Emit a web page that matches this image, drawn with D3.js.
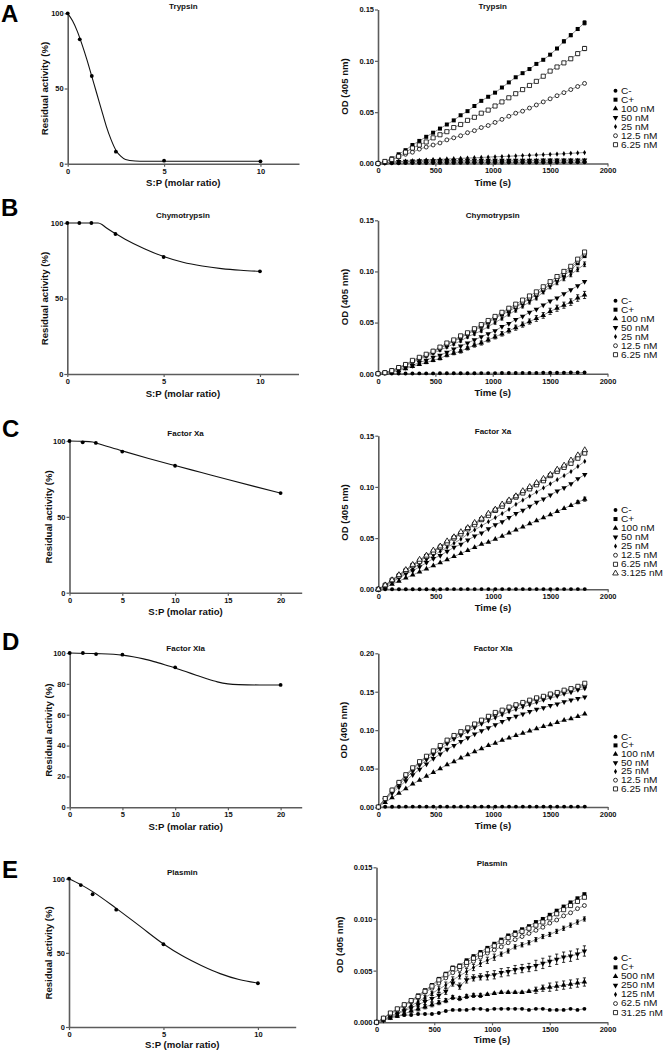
<!DOCTYPE html>
<html><head><meta charset="utf-8">
<script src="https://cdn.jsdelivr.net/npm/d3@7"></script>
<style>body{margin:0;background:#fff}svg{display:block}text{font-family:"Liberation Sans",Arial,Helvetica,sans-serif}</style>
</head><body><svg id="c" width="665" height="1050"></svg>
<script>
// ---------- time axis (s) ----------
const time = [0,60,120,180,240,300,360,420,480,540,600,660,720,780,840,900,960,1020,1080,1140,1200,1260,1320,1380,1440,1500,1560,1620,1680,1740,1800];

// ---------- left panels: residual activity ----------
const tryRatio = [0,0.625,1.25,2.5,5,10];
const tryAct   = [100,82.7,58.3,8,2,1.6];
const tryFitX  = [0,0.25,0.5,0.75,1,1.25,1.5,1.75,2,2.25,2.5,2.75,3,3.5,4,5,6,8,10];
const tryFitY  = [100,95,88,79,69,58,47,36,25,16,9,5,2.8,1.8,1.6,1.6,1.6,1.6,1.6];

const chyRatio = [0,0.625,1.25,2.5,5,10];
const chyAct   = [100,100,100,92.7,77.5,68];
const chyFitX  = [0,0.625,1.25,1.6,1.8,2,2.5,3,4,5,6,7,8,9,10];
const chyFitY  = [100,100,100,100,99,97,93,89.3,83,77.8,74,71.5,69.8,68.7,68];

const fxaRatio = [0,1.25,2.5,5,10,20];
const fxaAct   = [100,99.1,98.7,93,83.7,65.7];
const fxaFitX  = [0,1.25,2.2,2.5,5,7.5,10,12.5,15,17.5,20];
const fxaFitY  = [100,99.8,99.3,98.7,93.5,88.5,83.8,79.2,74.6,70.1,65.7];

const fxiRatio = [0,1.25,2.5,5,10,20];
const fxiAct   = [100,100,99.3,98.9,90.7,79.3];
const fxiFitX  = [0,2.5,5,6,7,8,9,10,11,12,13,14,15,16,18,20];
const fxiFitY  = [100,99.6,98.6,97.6,96.2,94.4,92.4,90.3,88,85.6,83.3,81.3,80,79.5,79.3,79.3];

const plaRatio = [0,0.625,1.25,2.5,5,10];
const plaAct   = [100,95.7,89.5,79.1,55.8,29.5];
const plaFitX  = [0,0.625,1.25,2.5,3.75,5,6,7,8,9,10];
const plaFitY  = [100,96,91.3,80,68,56,48,41.5,36,32,29.6];

// ---------- right panels: OD(405 nm) kinetics ----------
const tryLegend = ["C-","C+","100 nM","50 nM","25 nM","12.5 nM","6.25 nM"];
const tryCneg = [0,0.0002,0.0003,0.0003,0.0004,0.0004,0.0005,0.0005,0.0005,0.0006,0.0006,0.0006,0.0007,0.0007,0.0007,0.0008,0.0008,0.0008,0.0008,0.0009,0.0009,0.0009,0.0009,0.0010,0.0010,0.0010,0.0010,0.0011,0.0011,0.0011,0.0011];
const tryCpos = [0,0.002,0.005,0.009,0.013,0.018,0.022,0.026,0.030,0.034,0.038,0.042,0.047,0.051,0.056,0.061,0.065,0.069,0.074,0.079,0.084,0.088,0.092,0.097,0.101,0.106,0.112,0.119,0.125,0.131,0.137];
const tryCposErr = [0,0,0,0,0,0,0,0,0,0,0,0,0,0,0,0,0,0,0,0,0,0,0,0,0,0,0.001,0.0015,0.0015,0.0015,0.002];
const try100 = [0,0.0006,0.0011,0.0014,0.0016,0.0018,0.0019,0.0020,0.0021,0.0021,0.0022,0.0022,0.0022,0.0023,0.0023,0.0023,0.0023,0.0024,0.0024,0.0024,0.0024,0.0024,0.0025,0.0025,0.0025,0.0025,0.0025,0.0025,0.0026,0.0026,0.0026];
const try50 = [0,0.0008,0.0014,0.0018,0.0021,0.0023,0.0025,0.0026,0.0027,0.0028,0.0029,0.0029,0.0030,0.0030,0.0030,0.0031,0.0031,0.0031,0.0031,0.0032,0.0032,0.0032,0.0032,0.0032,0.0033,0.0033,0.0033,0.0033,0.0033,0.0033,0.0034];
const try25 = [0,0.0006,0.0012,0.0017,0.0022,0.0026,0.0030,0.0034,0.0038,0.0041,0.0044,0.0047,0.0050,0.0053,0.0056,0.0059,0.0062,0.0065,0.0068,0.0071,0.0074,0.0077,0.0080,0.0083,0.0086,0.0089,0.0092,0.0095,0.0099,0.0103,0.0107];
const try12 = [0,0.0015,0.004,0.006,0.009,0.011,0.014,0.016,0.018,0.020,0.023,0.025,0.027,0.030,0.032,0.035,0.037,0.040,0.043,0.046,0.049,0.051,0.054,0.057,0.060,0.063,0.066,0.069,0.072,0.075,0.078];
const try6 = [0,0.002,0.004,0.007,0.011,0.015,0.018,0.021,0.025,0.028,0.031,0.035,0.038,0.042,0.045,0.049,0.052,0.056,0.060,0.064,0.068,0.072,0.076,0.080,0.085,0.090,0.094,0.098,0.102,0.107,0.112];
const try6Err = [0,0,0,0,0,0,0,0,0,0,0,0,0,0,0,0,0,0,0,0,0,0,0,0,0,0,0.001,0.001,0.0015,0.0015,0.002];

const chyLegend = ["C-","C+","100 nM","50 nM","25 nM","12.5 nM","6.25 nM"];
const chyCneg = [0,0.0001,0.0001,0.0002,0.0002,0.0002,0.0003,0.0003,0.0003,0.0004,0.0004,0.0004,0.0005,0.0005,0.0005,0.0006,0.0006,0.0006,0.0007,0.0007,0.0007,0.0008,0.0008,0.0008,0.0009,0.0009,0.0010,0.0010,0.0011,0.0011,0.0012];
const chyCpos = [0,0.001,0.003,0.006,0.008,0.012,0.015,0.018,0.021,0.025,0.028,0.032,0.035,0.039,0.042,0.046,0.050,0.054,0.058,0.061,0.065,0.069,0.073,0.077,0.082,0.087,0.092,0.096,0.101,0.108,0.115];
const chy100 = [0,0.0005,0.0015,0.003,0.005,0.007,0.009,0.011,0.013,0.015,0.018,0.020,0.022,0.025,0.028,0.030,0.033,0.036,0.039,0.042,0.045,0.048,0.051,0.054,0.057,0.061,0.064,0.067,0.070,0.074,0.077];
const chy100Err = [0,0,0,0.0005,0.0008,0.001,0.001,0.0012,0.0012,0.0015,0.0015,0.0015,0.0018,0.0018,0.002,0.002,0.002,0.002,0.0022,0.0022,0.0025,0.0025,0.0025,0.0028,0.0028,0.003,0.003,0.003,0.0032,0.0032,0.0035];
const chy50 = [0,0.001,0.002,0.004,0.006,0.008,0.011,0.013,0.016,0.018,0.021,0.024,0.027,0.030,0.033,0.036,0.039,0.042,0.046,0.049,0.053,0.056,0.060,0.063,0.067,0.071,0.074,0.078,0.082,0.086,0.090];
const chy25 = [0,0.001,0.003,0.005,0.008,0.011,0.014,0.017,0.020,0.023,0.026,0.029,0.032,0.036,0.039,0.042,0.046,0.050,0.054,0.058,0.062,0.066,0.070,0.074,0.080,0.085,0.089,0.093,0.097,0.102,0.107];
const chy25Err = [0,0,0,0.0004,0.0005,0.0006,0.0007,0.0008,0.0009,0.001,0.001,0.0011,0.0012,0.0012,0.0013,0.0014,0.0014,0.0015,0.0015,0.0016,0.0017,0.0017,0.0018,0.0018,0.0019,0.002,0.002,0.0021,0.0022,0.0022,0.0023];
const chy12 = [0,0.001,0.003,0.006,0.009,0.012,0.015,0.018,0.022,0.025,0.029,0.032,0.036,0.039,0.043,0.047,0.051,0.055,0.059,0.063,0.066,0.070,0.074,0.078,0.083,0.088,0.093,0.098,0.103,0.110,0.117];
const chy6 = [0,0.001,0.003,0.006,0.009,0.013,0.016,0.019,0.022,0.026,0.030,0.033,0.037,0.040,0.044,0.048,0.052,0.056,0.060,0.064,0.068,0.072,0.076,0.080,0.085,0.090,0.095,0.100,0.105,0.112,0.119];

const fxaLegend = ["C-","C+","100 nM","50 nM","25 nM","12.5 nM","6.25 nM","3.125 nM"];
const fxaCneg = [0,0.0001,0.0001,0.0001,0.0001,0.0001,0.0001,0.0001,0.0001,0.0001,0.0002,0.0002,0.0002,0.0002,0.0002,0.0002,0.0002,0.0002,0.0002,0.0002,0.0002,0.0002,0.0002,0.0002,0.0002,0.0002,0.0002,0.0002,0.0002,0.0002,0.0002];
const fxaCpos = [0,0.004,0.009,0.014,0.018,0.023,0.028,0.032,0.037,0.041,0.046,0.050,0.055,0.059,0.064,0.068,0.073,0.077,0.082,0.086,0.090,0.095,0.099,0.103,0.107,0.111,0.116,0.120,0.124,0.129,0.134];
const fxa100 = [0,0.002,0.005,0.008,0.011,0.014,0.017,0.020,0.023,0.026,0.029,0.032,0.035,0.038,0.041,0.044,0.046,0.049,0.052,0.055,0.058,0.061,0.064,0.067,0.070,0.073,0.076,0.079,0.082,0.085,0.088];
const fxa100Err = [0,0,0,0,0,0,0,0,0,0,0,0,0,0,0,0,0,0,0,0,0,0,0,0,0,0,0,0,0,0.0015,0.002];
const fxa50 = [0,0.003,0.007,0.011,0.015,0.018,0.022,0.026,0.030,0.033,0.037,0.041,0.044,0.048,0.052,0.055,0.059,0.063,0.066,0.070,0.074,0.077,0.081,0.085,0.088,0.092,0.096,0.099,0.103,0.108,0.112];
const fxa25 = [0,0.004,0.008,0.012,0.016,0.020,0.025,0.029,0.033,0.037,0.041,0.045,0.049,0.054,0.058,0.062,0.066,0.070,0.074,0.078,0.083,0.087,0.091,0.095,0.099,0.103,0.107,0.111,0.115,0.120,0.125];
const fxa12 = [0,0.004,0.009,0.014,0.019,0.024,0.028,0.033,0.037,0.042,0.046,0.051,0.055,0.060,0.064,0.069,0.073,0.078,0.082,0.086,0.091,0.095,0.099,0.103,0.107,0.112,0.116,0.120,0.125,0.130,0.135];
const fxa6 = [0,0.004,0.009,0.013,0.018,0.023,0.027,0.032,0.036,0.041,0.045,0.050,0.054,0.059,0.063,0.068,0.072,0.077,0.081,0.086,0.090,0.094,0.098,0.102,0.106,0.111,0.115,0.119,0.123,0.128,0.133];
const fxa3 = [0,0.004,0.009,0.014,0.019,0.024,0.029,0.033,0.038,0.042,0.047,0.051,0.056,0.060,0.065,0.069,0.074,0.078,0.083,0.087,0.091,0.096,0.100,0.104,0.108,0.112,0.117,0.121,0.126,0.131,0.136];

const fxiLegend = ["C-","C+","100 nM","50 nM","25 nM","12.5 nM","6.25 nM"];
const fxiCneg = [0,0.0003,0.0004,0.0004,0.0005,0.0005,0.0005,0.0005,0.0005,0.0005,0.0005,0.0005,0.0005,0.0005,0.0005,0.0005,0.0005,0.0005,0.0005,0.0005,0.0005,0.0005,0.0005,0.0005,0.0005,0.0005,0.0005,0.0005,0.0005,0.0005,0.0005];
const fxiCpos = [0,0.011,0.021,0.031,0.040,0.049,0.057,0.064,0.071,0.078,0.085,0.091,0.096,0.101,0.106,0.111,0.116,0.120,0.124,0.128,0.131,0.134,0.137,0.140,0.142,0.145,0.147,0.150,0.152,0.155,0.157];
const fxi100 = [0,0.006,0.012,0.018,0.024,0.030,0.035,0.040,0.045,0.050,0.055,0.059,0.064,0.068,0.072,0.076,0.080,0.083,0.087,0.090,0.093,0.096,0.099,0.102,0.105,0.107,0.110,0.113,0.115,0.118,0.121];
const fxi50 = [0,0.009,0.018,0.026,0.034,0.042,0.049,0.056,0.063,0.069,0.075,0.080,0.085,0.090,0.095,0.099,0.103,0.107,0.111,0.115,0.118,0.121,0.124,0.127,0.129,0.132,0.134,0.137,0.139,0.141,0.143];
const fxi25 = [0,0.010,0.020,0.029,0.038,0.046,0.054,0.061,0.068,0.075,0.082,0.088,0.093,0.098,0.103,0.108,0.112,0.116,0.120,0.124,0.127,0.130,0.133,0.136,0.139,0.142,0.144,0.147,0.149,0.152,0.154];
const fxi12 = [0,0.011,0.022,0.032,0.041,0.050,0.058,0.065,0.072,0.079,0.086,0.092,0.097,0.102,0.107,0.112,0.117,0.121,0.125,0.129,0.132,0.135,0.138,0.141,0.143,0.146,0.148,0.151,0.153,0.156,0.159];
const fxi6 = [0,0.011,0.022,0.032,0.042,0.051,0.059,0.066,0.073,0.080,0.087,0.093,0.098,0.103,0.108,0.113,0.118,0.123,0.126,0.130,0.133,0.136,0.139,0.142,0.144,0.147,0.149,0.152,0.154,0.157,0.161];

const plaLegend = ["C-","C+","500 nM","250 nM","125 nM","62.5 nM","31.25 nM"];
const plaCneg = [0,0.0003,0.0005,0.0006,0.0007,0.0007,0.0008,0.0008,0.0008,0.0009,0.0011,0.0012,0.0012,0.0012,0.0013,0.0013,0.0012,0.0013,0.0013,0.0013,0.0013,0.0013,0.0012,0.0013,0.0013,0.0012,0.0012,0.0012,0.0013,0.0012,0.0013];
const plaCpos = [0,0.0004,0.0009,0.0013,0.0017,0.0021,0.0026,0.0031,0.0036,0.0042,0.0047,0.0053,0.0055,0.0060,0.0064,0.0068,0.0072,0.0076,0.0080,0.0084,0.0087,0.0090,0.0093,0.0097,0.0100,0.0104,0.0108,0.0112,0.0116,0.0120,0.0124];
const pla500 = [0,0.0002,0.0004,0.0006,0.0008,0.0011,0.0013,0.0015,0.0017,0.0019,0.0021,0.0024,0.0023,0.0025,0.0026,0.0026,0.0027,0.0028,0.0029,0.0029,0.0029,0.0029,0.0030,0.0031,0.0033,0.0034,0.0035,0.0036,0.0037,0.0038,0.0039];
const pla500Err = [0,0,0.0001,0.0001,0.0002,0.0002,0.0002,0.0002,0.0002,0.0002,0.0002,0.0002,0.0002,0.0002,0.0002,0.0002,0.0001,0.0001,0.0001,0.0001,0.0001,0.0001,0.0001,0.0003,0.0003,0.0004,0.0004,0.0004,0.0004,0.0004,0.0004];
const pla250 = [0,0.0002,0.0005,0.0008,0.0011,0.0014,0.0017,0.0020,0.0023,0.0026,0.0030,0.0038,0.0035,0.0041,0.0043,0.0044,0.0045,0.0046,0.0048,0.0049,0.0051,0.0052,0.0053,0.0055,0.0057,0.0059,0.0061,0.0063,0.0064,0.0066,0.0069];
const pla250Err = [0,0,0.0001,0.0001,0.0002,0.0002,0.0002,0.0003,0.0003,0.0003,0.0003,0.0003,0.0003,0.0003,0.0003,0.0003,0.0004,0.0004,0.0004,0.0004,0.0004,0.0004,0.0004,0.0005,0.0005,0.0005,0.0005,0.0005,0.0005,0.0005,0.0005];
const pla125 = [0,0.0003,0.0006,0.0009,0.0012,0.0016,0.0020,0.0024,0.0028,0.0032,0.0036,0.0041,0.0045,0.0049,0.0053,0.0057,0.0060,0.0063,0.0066,0.0069,0.0073,0.0075,0.0077,0.0080,0.0083,0.0085,0.0088,0.0091,0.0094,0.0097,0.0100];
const pla125Err = [0,0,0.0001,0.0001,0.0002,0.0002,0.0002,0.0002,0.0002,0.0003,0.0003,0.0003,0.0003,0.0003,0.0003,0.0003,0.0003,0.0003,0.0002,0.0002,0.0002,0.0002,0.0002,0.0002,0.0002,0.0002,0.0002,0.0002,0.0002,0.0002,0.0002];
const pla62 = [0,0.0004,0.0008,0.0012,0.0016,0.0020,0.0024,0.0029,0.0033,0.0038,0.0043,0.0048,0.0051,0.0055,0.0059,0.0063,0.0067,0.0070,0.0073,0.0077,0.0080,0.0083,0.0086,0.0089,0.0092,0.0096,0.0099,0.0103,0.0106,0.0110,0.0113];
const pla31 = [0,0.0004,0.0009,0.0013,0.0017,0.0021,0.0025,0.0030,0.0035,0.0041,0.0046,0.0052,0.0054,0.0058,0.0062,0.0066,0.0070,0.0074,0.0078,0.0082,0.0085,0.0088,0.0091,0.0094,0.0097,0.0101,0.0105,0.0109,0.0113,0.0117,0.0121];

// ---------- drawing ----------
const svg = d3.select("#c");
const AX = "#5c5c5c";
const FONT = '"Liberation Sans",Arial,Helvetica,sans-serif';

function styleAxis(g){
  g.select(".domain").attr("stroke",AX).attr("stroke-width",1.6);
  g.selectAll(".tick line").attr("stroke",AX).attr("stroke-width",1.2);
  g.selectAll(".tick text").attr("font-size",7.5).attr("font-weight","bold").attr("fill","#111").attr("font-family",FONT);
}
function txt(x,y,s,opt={}){
  const t = svg.append("text").attr("x",x).attr("y",y).attr("dy","0.35em").text(s)
    .attr("font-family",FONT).attr("font-size",opt.size||9.6).attr("font-weight",opt.weight||"bold")
    .attr("text-anchor",opt.anchor||"middle").attr("fill","#111");
  if(opt.rot) t.attr("transform",`rotate(-90,${x},${y})`);
  return t;
}

// panel letters
[["A",1,22],["B",1,216],["C",2,437],["D",2,650],["E",2,878]].forEach(([l,x,y])=>{
  svg.append("text").attr("x",x).attr("y",y).text(l).attr("font-family",FONT)
    .attr("font-size",24).attr("font-weight","bold").attr("fill","#000");
});

const leftPanels = [
  {title:"Trypsin", x0:67.7, x1:299, xmax:12, xticks:[0,5,10], yb:163.7, yt:13.3, yticks:[0,50,100], titleY:6.5, xtY:183, ytX:45, rx:tryRatio, ry:tryAct, fx:tryFitX, fy:tryFitY},
  {title:"Chymotrypsin", x0:67.3, x1:298.5, xmax:12, xticks:[0,5,10], yb:374, yt:223, yticks:[0,50,100], titleY:215, xtY:393.3, ytX:45, rx:chyRatio, ry:chyAct, fx:chyFitX, fy:chyFitY},
  {title:"Factor Xa", x0:69.5, x1:301.7, xmax:22, xticks:[0,5,10,15,20], yb:592.7, yt:441, yticks:[0,50,100], titleY:433.3, xtY:611.7, ytX:48.3, rx:fxaRatio, ry:fxaAct, fx:fxaFitX, fy:fxaFitY},
  {title:"Factor XIa", x0:69.7, x1:301.7, xmax:22, xticks:[0,5,10,15,20], yb:807.3, yt:653, yticks:[0,20,40,60,80,100], titleY:647.7, xtY:826.7, ytX:48.3, rx:fxiRatio, ry:fxiAct, fx:fxiFitX, fy:fxiFitY},
  {title:"Plasmin", x0:69, x1:295.7, xmax:12, xticks:[0,5,10], yb:1027, yt:878.7, yticks:[0,50,100], titleY:872.3, xtY:1045, ytX:48.3, rx:plaRatio, ry:plaAct, fx:plaFitX, fy:plaFitY}
];

leftPanels.forEach(p=>{
  const x = d3.scaleLinear().domain([0,p.xmax]).range([p.x0,p.x1]);
  const y = d3.scaleLinear().domain([0,100]).range([p.yb,p.yt]);
  const g = svg.append("g");
  g.append("g").attr("transform",`translate(0,${p.yb})`)
    .call(d3.axisBottom(x).tickValues(p.xticks).tickSize(3).tickSizeOuter(0).tickPadding(1.5).tickFormat(d3.format("d"))).call(styleAxis);
  g.append("g").attr("transform",`translate(${p.x0},0)`)
    .call(d3.axisLeft(y).tickValues(p.yticks).tickSize(3).tickSizeOuter(0).tickPadding(1).tickFormat(d3.format("d"))).call(styleAxis);
  const fit = p.fx.map((v,i)=>[v,p.fy[i]]);
  g.append("path").datum(fit).attr("fill","none").attr("stroke","#111").attr("stroke-width",1.1)
    .attr("d",d3.line().x(d=>x(d[0])).y(d=>y(d[1])).curve(d3.curveMonotoneX));
  g.selectAll("circle.pt").data(p.rx.map((v,i)=>[v,p.ry[i]])).join("circle")
    .attr("cx",d=>x(d[0])).attr("cy",d=>y(d[1])).attr("r",1.9).attr("fill","#000");
  txt((p.x0+p.x1)/2, p.titleY, p.title, {size:8});
  txt((p.x0+p.x1)/2, p.xtY, "S:P (molar ratio)");
  txt(p.ytX, (p.yb+p.yt)/2, "Residual activity (%)", {rot:true});
});

// symbol definitions
const SYM = {
  cF:{type:d3.symbolCircle,size:12,fill:"#000"},
  sF:{type:d3.symbolSquare,size:16,fill:"#000"},
  tU:{type:d3.symbolTriangle,size:13,fill:"#000"},
  tD:{type:d3.symbolTriangle,size:13,fill:"#000",rot:180},
  dm:{type:d3.symbolDiamond,size:8,fill:"#000"},
  cO:{type:d3.symbolCircle,size:12,fill:"#fff",stroke:true},
  sO:{type:d3.symbolSquare,size:17,fill:"#fff",stroke:true},
  tO:{type:d3.symbolTriangle,size:14,fill:"#fff",stroke:true}
};
function drawSym(g,key,cx,cy){
  const s = SYM[key];
  const p = g.append("path").attr("d",d3.symbol().type(s.type).size(s.size)())
    .attr("transform",`translate(${cx},${cy})${s.rot?` rotate(${s.rot})`:""}`)
    .attr("fill",s.fill);
  if(s.stroke) p.attr("stroke","#000").attr("stroke-width",0.8);
}

const rightPanels = [
  {title:"Trypsin", x0:378, x1:607.5, yb:163.5, yt:9.5, ymax:0.15, yticks:[0,0.05,0.10,0.15], fmt:".2f", titleY:6.5, xtY:182.3, ytX:345, legY:90.7, legStep:9,
   legend:tryLegend, series:[[tryCneg,"cF"],[tryCpos,"sF",tryCposErr],[try100,"tU"],[try50,"tD"],[try25,"dm"],[try12,"cO"],[try6,"sO",try6Err]]},
  {title:"Chymotrypsin", x0:378, x1:607.5, yb:373.7, yt:220.3, ymax:0.15, yticks:[0,0.05,0.10,0.15], fmt:".2f", titleY:215, xtY:392.3, ytX:345, legY:300.7, legStep:9,
   legend:chyLegend, series:[[chyCneg,"cF"],[chyCpos,"sF"],[chy100,"tU",chy100Err],[chy50,"tD"],[chy25,"dm",chy25Err],[chy12,"cO"],[chy6,"sO"]]},
  {title:"Factor Xa", x0:378.3, x1:607.7, yb:589.3, yt:435.7, ymax:0.15, yticks:[0,0.05,0.10,0.15], fmt:".2f", titleY:430.7, xtY:607.3, ytX:345, legY:510, legStep:9.05,
   legend:fxaLegend, series:[[fxaCneg,"cF"],[fxaCpos,"sF"],[fxa100,"tU",fxa100Err],[fxa50,"tD"],[fxa25,"dm"],[fxa12,"cO"],[fxa6,"sO"],[fxa3,"tO"]]},
  {title:"Factor XIa", x0:378.3, x1:607.7, yb:807, yt:653.3, ymax:0.20, yticks:[0,0.05,0.10,0.15,0.20], fmt:".2f", titleY:648.3, xtY:826, ytX:343.3, legY:736.7, legStep:8.7,
   legend:fxiLegend, series:[[fxiCneg,"cF"],[fxiCpos,"sF"],[fxi100,"tU"],[fxi50,"tD"],[fxi25,"dm"],[fxi12,"cO"],[fxi6,"sO"]]},
  {title:"Plasmin", x0:376.5, x1:607.5, yb:1022.3, yt:867.3, ymax:0.015, yticks:[0,0.005,0.010,0.015], fmt:".3f", titleY:863.3, xtY:1039.3, ytX:340, legY:958.3, legStep:9.05,
   legend:plaLegend, series:[[plaCneg,"cF"],[plaCpos,"sF"],[pla500,"tU",pla500Err],[pla250,"tD",pla250Err],[pla125,"dm",pla125Err],[pla62,"cO"],[pla31,"sO"]]}
];

const LEG_SX = 1.2;   // horizontal stretch of legend text
rightPanels.forEach(p=>{
  const x = d3.scaleLinear().domain([0,2000]).range([p.x0,p.x1]);
  const y = d3.scaleLinear().domain([0,p.ymax]).range([p.yb,p.yt]);
  const g = svg.append("g");
  g.append("g").attr("transform",`translate(0,${p.yb})`)
    .call(d3.axisBottom(x).tickValues([0,500,1000,1500,2000]).tickSize(3).tickSizeOuter(0).tickPadding(1.5).tickFormat(d3.format("d"))).call(styleAxis);
  g.append("g").attr("transform",`translate(${p.x0},0)`)
    .call(d3.axisLeft(y).tickValues(p.yticks).tickSize(3).tickSizeOuter(0).tickPadding(1).tickFormat(d3.format(p.fmt))).call(styleAxis);
  const line = d3.line().x((d,i)=>x(time[i])).y(d=>y(d));
  p.series.forEach(([vals])=>{
    g.append("path").datum(vals).attr("fill","none").attr("stroke","#777").attr("stroke-width",0.8).attr("d",line);
  });
  p.series.forEach(([vals,key,err])=>{
    if(!err) return;
    vals.forEach((v,i)=>{
      if(!err[i]) return;
      const cx = x(time[i]), ya = y(v+err[i]), yb2 = y(v-err[i]);
      g.append("line").attr("x1",cx).attr("x2",cx).attr("y1",ya).attr("y2",yb2).attr("stroke","#000").attr("stroke-width",0.8);
      [ya,yb2].forEach(yy=>g.append("line").attr("x1",cx-1.6).attr("x2",cx+1.6).attr("y1",yy).attr("y2",yy).attr("stroke","#000").attr("stroke-width",0.8));
    });
  });
  p.series.forEach(([vals,key])=>{
    vals.forEach((v,i)=>drawSym(g,key,x(time[i]),y(v)));
  });
  p.series.forEach(([vals,key],i)=>{
    const ly = p.legY + i*p.legStep;
    drawSym(g,key,615.5,ly);
    svg.append("text").attr("x",0).attr("y",0).attr("dy","0.35em")
      .attr("transform",`translate(621,${ly}) scale(${LEG_SX},1)`)
      .attr("font-family",FONT).attr("font-size",8.4).attr("fill","#111")
      .text(p.legend[i]);
  });
  txt((p.x0+p.x1)/2, p.titleY, p.title, {size:8});
  txt((p.x0+p.x1)/2, p.xtY, "Time (s)");
  txt(p.ytX, (p.yb+p.yt)/2, "OD (405 nm)", {rot:true});
});
</script>
</body></html>
